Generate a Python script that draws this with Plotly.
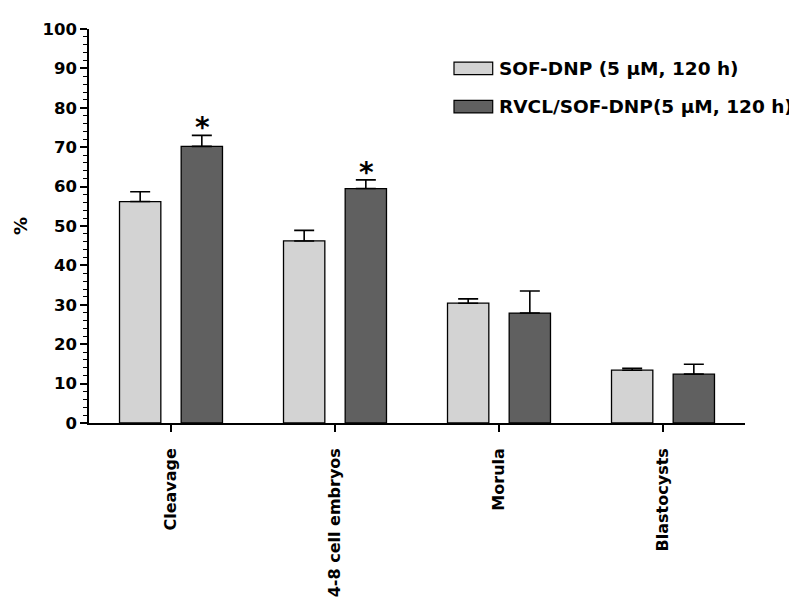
import plotly.graph_objects as go

categories = ["Cleavage", "4-8 cell embryos", "Morula", "Blastocysts"]
sof_values = [56.2, 46.2, 30.4, 13.4]
sof_err = [2.5, 2.7, 1.1, 0.5]
rvcl_values = [70.2, 59.5, 27.9, 12.4]
rvcl_err = [2.8, 2.2, 5.6, 2.5]
significant = [True, True, False, False]
series_names = ["SOF-DNP (5 µM, 120 h)", "RVCL/SOF-DNP(5 µM, 120 h)"]
y_ticks = list(range(0, 101, 10))

LIGHT = "#d3d3d3"
DARK = "#606060"
FONT = "DejaVu Sans"

fig = go.Figure()
for name, vals, errs, col in [(series_names[0], sof_values, sof_err, LIGHT),
                              (series_names[1], rvcl_values, rvcl_err, DARK)]:
    fig.add_trace(go.Bar(
        x=categories, y=vals, name=name, showlegend=False,
        marker=dict(color=col, line=dict(color="black", width=1.3)),
        error_y=dict(type="data", array=errs, arrayminus=[0] * len(errs),
                     symmetric=False, color="black", thickness=1.6, width=10),
    ))

# significance asterisks above the RVCL error bars
for i, (cat, v, e, s) in enumerate(zip(categories, rvcl_values, rvcl_err, significant)):
    if s:
        fig.add_annotation(x=i + 0.19, y=v + e, xref="x", yref="y", text="*",
                           showarrow=False, yanchor="bottom", yshift=-11,
                           font=dict(family=FONT, size=28, color="black", weight="bold"))

# custom legend
for k, (name, col) in enumerate(zip(series_names, [LIGHT, DARK])):
    y0 = [0.884, 0.787][k]
    fig.add_shape(type="rect", xref="paper", yref="paper",
                  x0=0.5564, x1=0.6154, y0=y0, y1=y0 + 0.032,
                  fillcolor=col, line=dict(color="black", width=1.2))
    fig.add_annotation(xref="paper", yref="paper", x=0.622, y=y0 + 0.016,
                       text=name, showarrow=False, xanchor="left", yanchor="middle",
                       font=dict(family=FONT, size=18.5, color="black", weight="bold"))

fig.add_annotation(xref="paper", yref="paper", x=-0.105, y=0.5, text="%",
                   textangle=-90, showarrow=False, xanchor="center", yanchor="middle",
                   font=dict(family=FONT, size=18, color="black", weight="bold"))

# page body has an 8px margin, so the figure is drawn 8px smaller and shifted
fig.update_layout(
    width=789, height=601,
    margin=dict(l=81, r=52, t=14, b=174),
    paper_bgcolor="white", plot_bgcolor="white",
    barmode="group", bargap=0.248, bargroupgap=0.33,
    font=dict(family=FONT, color="black", weight="bold"),
)
fig.update_xaxes(
    showline=True, linecolor="black", linewidth=1.5,
    ticks="outside", ticklen=7, tickwidth=1.5, tickcolor="black",
    tickangle=-90, tickfont=dict(family=FONT, size=16, weight="bold"),
    ticklabelstandoff=10, showgrid=False, zeroline=False,
)
fig.update_yaxes(
    range=[0, 100], tickvals=y_ticks,
    showline=True, linecolor="black", linewidth=1.5,
    ticks="outside", ticklen=7, tickwidth=1.5, tickcolor="black",
    minor=dict(dtick=2, ticks="outside", ticklen=4, tickwidth=1.2, tickcolor="black"),
    tickfont=dict(family=FONT, size=16.5, weight="bold"),
    showgrid=False, zeroline=False,
)

fig.write_html("out.html")
